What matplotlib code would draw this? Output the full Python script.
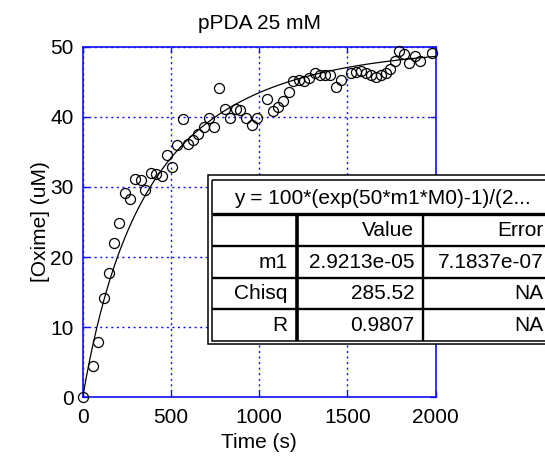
import numpy as np
import matplotlib
matplotlib.use("Agg")
import matplotlib.pyplot as plt
from matplotlib.patches import Rectangle

plt.rcParams['font.family'] = ['Liberation Sans', 'DejaVu Sans']

# Measured oxime formation (time in s, concentration in uM)
time_s = [0, 58, 88, 118, 148, 178, 207, 237, 267, 299, 329, 355, 388, 416, 447,
          480, 508, 537, 571, 596, 624, 656, 688, 715, 745, 775, 808, 836, 867, 894,
          927, 957, 988, 1044, 1077, 1106, 1135, 1167, 1195, 1228, 1256, 1285, 1316,
          1347, 1375, 1404, 1436, 1462, 1519, 1548, 1576, 1605, 1633, 1661, 1690,
          1718, 1742, 1768, 1795, 1823, 1852, 1886, 1914, 1981]
oxime_uM = [0.0, 4.5, 7.9, 14.1, 17.7, 22.0, 24.8, 29.1, 28.3, 31.2, 31.0, 29.5, 32.0,
            31.8, 31.6, 34.5, 32.9, 36.0, 39.7, 36.1, 36.7, 37.5, 38.5, 39.9, 38.5,
            44.1, 41.1, 39.9, 41.1, 41.0, 39.8, 38.8, 39.8, 42.6, 40.8, 41.4, 42.2,
            43.6, 45.1, 45.2, 45.1, 45.6, 46.2, 45.9, 46.0, 45.9, 44.3, 45.2, 46.2,
            46.4, 46.6, 46.2, 46.0, 45.7, 46.0, 46.3, 46.8, 48.0, 49.4, 49.0, 47.7,
            48.7, 47.9, 49.1]

# Fit results
m1_value = 2.9213e-05
fit_rows = [("m1", "2.9213e-05", "7.1837e-07"),
            ("Chisq", "285.52", "NA"),
            ("R", "0.9807", "NA")]
fit_header = ("", "Value", "Error")
fit_equation = "y = 100*(exp(50*m1*M0)-1)/(2..."

x_ticks = [0, 500, 1000, 1500, 2000]
y_ticks = [0, 10, 20, 30, 40, 50]

W, H, DPI = 545, 462, 100
fig = plt.figure(figsize=(W / DPI, H / DPI), dpi=DPI)
ax_l, ax_r, ax_t, ax_b = 82.7, 435.5, 46.7, 397.3
ax = fig.add_axes([ax_l / W, 1 - ax_b / H, (ax_r - ax_l) / W, (ax_b - ax_t) / H])

blue = '#1010ff'
fs = 15

# Second-order model curve evaluated with the fitted m1
tt = np.linspace(0, 2000, 400)
ee = np.exp(50 * m1_value * tt)
ax.plot(tt, 100 * (ee - 1) / (2 * ee - 1), color='black', lw=0.9, zorder=3)
ax.plot(time_s, oxime_uM, 'o', mfc='none', mec='black', ms=7.2, mew=0.9, zorder=4,
        clip_on=False)

ax.set_xlim(0, 2000)
ax.set_ylim(0, 50)
ax.set_xticks(x_ticks)
ax.set_yticks(y_ticks)
ax.grid(True, color=blue, linestyle=(0, (1.5, 2.5)), lw=1.0)
ax.set_axisbelow(True)
for sp in ax.spines.values():
    sp.set_color(blue)
    sp.set_linewidth(1.2)
ax.tick_params(direction='in', length=4, width=1, color=blue, labelsize=fs,
               top=True, right=True)
ax.tick_params(axis='x', pad=8)
ax.tick_params(axis='y', pad=6.5)
ax.set_title("pPDA 25 mM", fontsize=fs, pad=13)
ax.set_xlabel("Time (s)", fontsize=fs, va='center')
ax.set_ylabel("[Oxime] (uM)", fontsize=fs, va='center')
ax.xaxis.set_label_coords(0.5, (ax_b - 443) / (ax_b - ax_t))
ax.yaxis.set_label_coords((41 - ax_l) / (ax_r - ax_l), 0.5)

# Fit results table drawn on a pixel-space overlay
ov = fig.add_axes([0, 0, 1, 1], zorder=10)
ov.set_xlim(0, W)
ov.set_ylim(H, 0)
ov.axis('off')

x_out, y_out, y_out_b = 208.3, 175.0, 344.0
x_in, y_in, y_in_b = 212.3, 180.0, 340.7
x_end = 600
ov.add_patch(Rectangle((x_out, y_out), x_end - x_out, y_out_b - y_out,
                       facecolor='white', edgecolor='black', lw=1.1))
ov.add_patch(Rectangle((x_in, y_in), x_end - x_in, y_in_b - y_in,
                       facecolor='none', edgecolor='black', lw=1.1))
ov.plot([x_in, x_end], [214, 214], color='black', lw=2.4, solid_capstyle='butt')
for yl in (246, 277.7, 309.3):
    ov.plot([x_in, x_end], [yl, yl], color='black', lw=1.7, solid_capstyle='butt')
ov.plot([296.7, 296.7], [214, y_in_b], color='black', lw=2.6, solid_capstyle='butt')
ov.plot([423.3, 423.3], [214, y_in_b], color='black', lw=1.7, solid_capstyle='butt')

ov.text(382.5, 198, fit_equation, ha='center', va='center', fontsize=fs)
col_right = [287.7, 414.3, 543.5]
row_mid = [230, 262, 293.5, 325.2]
for r, row in enumerate([fit_header] + fit_rows):
    for c, txt in enumerate(row):
        ov.text(col_right[c], row_mid[r], txt, ha='right', va='center', fontsize=fs)

fig.savefig("out.png", dpi=DPI)
